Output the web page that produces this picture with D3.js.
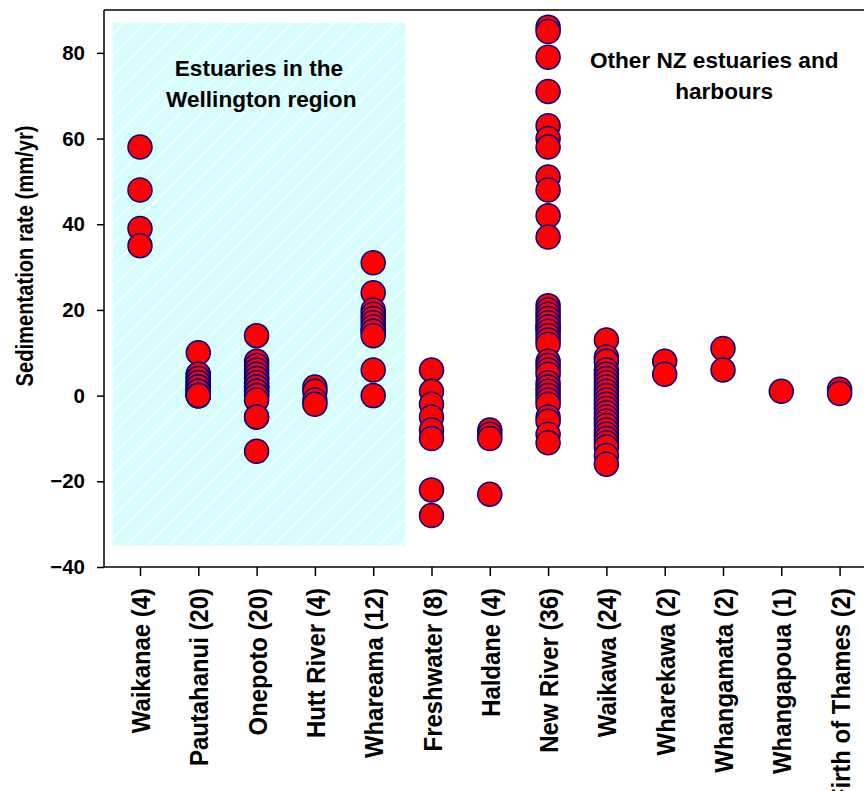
<!DOCTYPE html>
<html>
<head>
<meta charset="utf-8">
<script src="https://cdn.jsdelivr.net/npm/d3@7"></script>
<style>
  html, body { margin: 0; padding: 0; background: #ffffff; }
  svg { display: block; }
  text { font-family: "Liberation Sans", Arial, sans-serif; font-weight: bold; fill: #000; }
</style>
</head>
<body>
<svg id="chart" width="864" height="791"></svg>
<script>
// Estuary names, in plotting order
const estuaries = [
  "Waikanae", "Pautahanui", "Onepoto", "Hutt River", "Whareama",
  "Freshwater", "Haldane", "New River", "Waikawa", "Wharekawa",
  "Whangamata", "Whangapoua", "Firth of Thames"
];

// Sedimentation rates (mm/yr) for each core, one array per estuary
const waikanae   = [58, 48, 39, 35];
const pautahanui = [10, 5, 5, 4, 4, 3, 3, 3, 2, 2, 2, 1, 1, 1, 1, 0, 0, 0, 0, 0];
const onepoto    = [14, 8, 7, 6, 5, 4, 4, 3, 3, 2, 2, 2, 1, 1, 0, 0, -1, -5, -5, -13];
const huttRiver  = [2, 1, -1, -2];
const whareama   = [31, 24, 20, 19, 18, 17, 16, 15, 15, 14, 6, 0];
const freshwater = [6, 1, -2, -5, -8, -10, -22, -28];
const haldane    = [-8, -9, -10, -23];
const newRiver   = [86, 85, 79, 71, 63, 60, 58, 51, 48, 42, 37,
                    21, 20, 19, 18, 17, 16, 16, 15, 14, 13, 12, 8, 7, 6, 5,
                    3, 2, 1, 0, -1, -2, -5, -6, -9, -11];
const waikawa    = [13, 9, 8, 6, 5, 4, 3, 2, 1, 0, -1, -2, -3, -4, -5, -6,
                    -7, -8, -9, -10, -11, -12, -14, -16];
const wharekawa  = [8, 5];
const whangamata = [11, 6];
const whangapoua = [1];
const firthOfThames = [1.5, 0.5];

const rates = [waikanae, pautahanui, onepoto, huttRiver, whareama, freshwater,
               haldane, newRiver, waikawa, wharekawa, whangamata,
               whangapoua, firthOfThames];

// Axis ticks
const yTicks = [-40, -20, 0, 20, 40, 60, 80];
const yDomain = [-40, 90];

// Shaded group (Wellington region) in data units
const wellingtonBand = { fromIndex: -0.47, toIndex: 4.55, top: 87, bottom: -35 };

// Group captions: each line centred on a category position, baselines in data units
const groupLabels = [
  { text: "Estuaries in the",       at: 2.04, y: 74.6 },
  { text: "Wellington region",      at: 2.08, y: 67.4 },
  { text: "Other NZ estuaries and", at: 9.85, y: 76.5 },
  { text: "harbours",               at: 10.02, y: 69.3 }
];

// ---- layout ----
const svg = d3.select("#chart");
const plotLeft = 104, plotTop = 10, plotRight = 864, plotBottom = 567;

const x = d3.scaleLinear().domain([0, estuaries.length - 1]).range([140, 839.6]);
const y = d3.scaleLinear().domain(yDomain).range([plotBottom, plotTop]);

// diagonal hatch for the shaded region
const defs = svg.append("defs");
const pat = defs.append("pattern")
  .attr("id", "hatch")
  .attr("patternUnits", "userSpaceOnUse")
  .attr("width", 21).attr("height", 21);
pat.append("rect").attr("width", 21).attr("height", 21).attr("fill", "#d7fdfd");
pat.append("path")
  .attr("d", "M-2,2 L2,-2 M0,21 L21,0 M19,23 L23,19")
  .attr("stroke", "#ffffff").attr("stroke-width", 1.1);

svg.append("rect")
  .attr("x", x(wellingtonBand.fromIndex))
  .attr("y", y(wellingtonBand.top))
  .attr("width", x(wellingtonBand.toIndex) - x(wellingtonBand.fromIndex))
  .attr("height", y(wellingtonBand.bottom) - y(wellingtonBand.top))
  .attr("fill", "url(#hatch)");

// group annotations
svg.append("g").selectAll("text")
  .data(groupLabels)
  .join("text")
  .attr("x", d => x(d.at))
  .attr("y", d => y(d.y))
  .attr("text-anchor", "middle")
  .attr("font-size", 22.6)
  .text(d => d.text);

// top border of the plot frame
svg.append("line")
  .attr("x1", plotLeft).attr("x2", plotRight)
  .attr("y1", plotTop).attr("y2", plotTop)
  .attr("stroke", "#000").attr("stroke-width", 1.5);

// y axis
const yAxis = svg.append("g")
  .attr("transform", `translate(${plotLeft},0)`)
  .call(d3.axisLeft(y).tickValues(yTicks).tickSize(7).tickPadding(12).tickSizeOuter(0));
yAxis.select(".domain").attr("stroke", "#000").attr("stroke-width", 1.5)
  .attr("d", `M0,${plotTop}V${plotBottom}`);
yAxis.selectAll(".tick line").attr("stroke-width", 1.5);
yAxis.selectAll(".tick text")
  .attr("font-size", 20.5)
  .attr("font-family", "'Liberation Sans', Arial, sans-serif")
  .attr("font-weight", "bold");

// x axis
const xAxis = svg.append("g")
  .attr("transform", `translate(0,${plotBottom})`)
  .call(d3.axisBottom(x).tickValues(d3.range(estuaries.length)).tickSize(9).tickSizeOuter(0).tickFormat(""));
xAxis.select(".domain").attr("stroke", "#000").attr("stroke-width", 1.5)
  .attr("d", `M${plotLeft},0H${plotRight}`);
xAxis.selectAll(".tick line").attr("stroke-width", 1.5);

// rotated category labels with sample counts
svg.append("g").selectAll("text")
  .data(estuaries)
  .join("text")
  .attr("transform", (d, i) => `translate(${x(i) + 10},588) rotate(-90) scale(0.92,1)`)
  .attr("text-anchor", "end")
  .attr("font-size", 26)
  .text((d, i) => `${d} (${rates[i].length})`);

// y axis title
svg.append("text")
  .attr("transform", "translate(33,256) rotate(-90) scale(0.84,1)")
  .attr("text-anchor", "middle")
  .attr("font-size", 24)
  .text("Sedimentation rate (mm/yr)");

// points
const pts = [];
rates.forEach((vals, i) => vals.forEach(v => pts.push({ i, v })));
svg.append("g").selectAll("circle")
  .data(pts)
  .join("circle")
  .attr("cx", d => x(d.i))
  .attr("cy", d => y(d.v))
  .attr("r", 12)
  .attr("fill", "#ff0000")
  .attr("stroke", "#000080")
  .attr("stroke-width", 1.5);
</script>
</body>
</html>
